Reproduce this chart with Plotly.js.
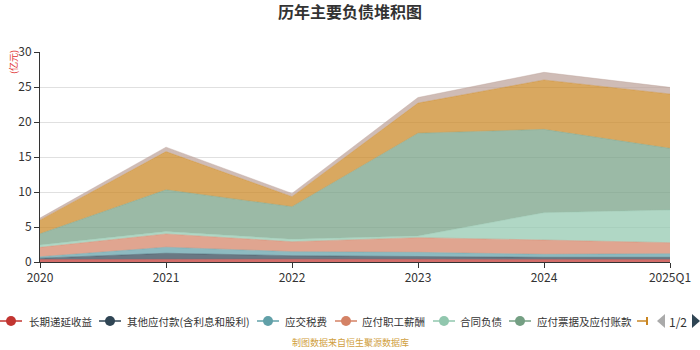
<!DOCTYPE html>
<html><head><meta charset="utf-8">
<script src="https://cdn.plot.ly/plotly-3.0.1.min.js"></script>
<style>html,body{margin:0;padding:0;background:#fff}#chart{width:700px;height:350px}</style>
</head><body><div id="chart"></div>
<script>
const categories = ['2020','2021','2022','2023','2024','2025Q1'];
const seriesNames = ['长期递延收益','其他应付款(含利息和股利)','应交税费','应付职工薪酬','合同负债','应付票据及应付账款','短期借款','其他流动负债'];
const s1 = [0.35,0.40,0.40,0.38,0.35,0.35];
const s2 = [0.20,0.85,0.50,0.38,0.32,0.32];
const s3 = [0.20,0.86,0.58,0.62,0.43,0.52];
const s4 = [1.35,1.90,1.42,2.10,2.04,1.57];
const s5 = [0.33,0.33,0.34,0.23,3.91,4.67];
const s6 = [1.60,5.97,4.66,14.69,11.90,8.81];
const s7 = [1.95,5.46,1.43,4.30,7.05,7.76];
const s8 = [0.30,0.64,0.47,0.80,1.10,0.95];
const seriesValues = [s1,s2,s3,s4,s5,s6,s7,s8];
const colors = ['#c23531','#2f4554','#61a0a8','#d48265','#91c7ae','#749f83','#ca8622','#bda29a'];
const yTicks = [0,5,10,15,20,25,30];

function rgba(hex,a){const n=parseInt(hex.slice(1),16);return `rgba(${n>>16},${(n>>8)&255},${n&255},${a})`;}

const traces = seriesValues.map((vals,i)=>({x:categories,y:vals,name:seriesNames[i],type:'scatter',mode:'lines',stackgroup:'one',
    line:{color:rgba(colors[i],0.75),width:0.5},fillcolor:rgba(colors[i],0.72),hoverinfo:'x+y+name'}));

const px = p => (p-40)/630, py = p => (262-p)/210;
const LY = 321;
// custom legend (page 1 of 2), icon centers / text starts in pixels
const legendIcon = [11,110,268,346,444,520];
const legendText = [27,125,283,360,458,535];
const shapes = [], annotations = [];
for(let i=0;i<6;i++){
  const c = legendIcon[i];
  shapes.push({type:'line',xref:'paper',yref:'paper',x0:px(c-11),x1:px(c+11),y0:py(LY),y1:py(LY),line:{color:colors[i],width:1.5}});
  shapes.push({type:'circle',xref:'paper',yref:'paper',x0:px(c-5),x1:px(c+5),y0:py(LY-5),y1:py(LY+5),fillcolor:colors[i],line:{color:colors[i],width:0}});
  annotations.push({text:seriesNames[i],xref:'paper',yref:'paper',x:px(legendText[i]),xanchor:'left',y:py(LY),yanchor:'middle',showarrow:false,font:{size:10.5,color:'#333'}});
}
shapes.push({type:'line',xref:'paper',yref:'paper',x0:px(637),x1:px(647),y0:py(LY),y1:py(LY),line:{color:colors[6],width:1.5}});
shapes.push({type:'line',xref:'paper',yref:'paper',x0:px(647),x1:px(647),y0:py(LY-4),y1:py(LY+4),line:{color:colors[6],width:2}});
shapes.push({type:'path',xref:'paper',yref:'paper',path:`M ${px(665)} ${py(314)} L ${px(665)} ${py(328)} L ${px(657)} ${py(321)} Z`,fillcolor:'#aaa',line:{width:0}});
shapes.push({type:'path',xref:'paper',yref:'paper',path:`M ${px(692)} ${py(314)} L ${px(692)} ${py(328)} L ${px(700)} ${py(321)} Z`,fillcolor:'#2f4554',line:{width:0}});
annotations.push({text:'1/2',xref:'paper',yref:'paper',x:px(678),xanchor:'center',y:py(LY),yanchor:'middle',showarrow:false,font:{size:12,color:'#333'}});
annotations.push({text:'(亿元)',xref:'paper',yref:'paper',x:px(13),xanchor:'center',y:py(62),yanchor:'middle',textangle:-90,showarrow:false,font:{size:9,color:'#e03030'}});
annotations.push({text:'制图数据来自恒生聚源数据库',xref:'paper',yref:'paper',x:px(350),xanchor:'center',y:py(342),yanchor:'middle',borderpad:0,showarrow:false,font:{size:9,color:'#d0a040'}});

const layout = {
  width:700,height:350,margin:{l:40,r:30,t:52,b:88,autoexpand:false},
  paper_bgcolor:'#fff',plot_bgcolor:'#fff',showlegend:false,
  font:{family:'"Noto Sans CJK SC", "DejaVu Sans", sans-serif',color:'#333',size:12},
  title:{text:'<b>历年主要负债堆积图</b>',x:0.5,xanchor:'center',y:1-12/350,yanchor:'middle',font:{size:16,color:'#333'}},
  xaxis:{type:'category',range:[0,5],showgrid:false,showline:true,linecolor:'#333',linewidth:1,
    ticks:'outside',ticklen:5,tickcolor:'#333',tickfont:{size:12,color:'#333'},zeroline:false,fixedrange:true},
  yaxis:{range:[0,30],tickvals:yTicks,showgrid:true,gridcolor:'#e0e0e0',showline:true,linecolor:'#333',linewidth:1,
    ticks:'outside',ticklen:5,tickcolor:'#333',tickfont:{size:12,color:'#333'},zeroline:false,fixedrange:true},
  annotations, shapes
};
Plotly.newPlot('chart',traces,layout,{displayModeBar:false,staticPlot:true});
</script></body></html>
